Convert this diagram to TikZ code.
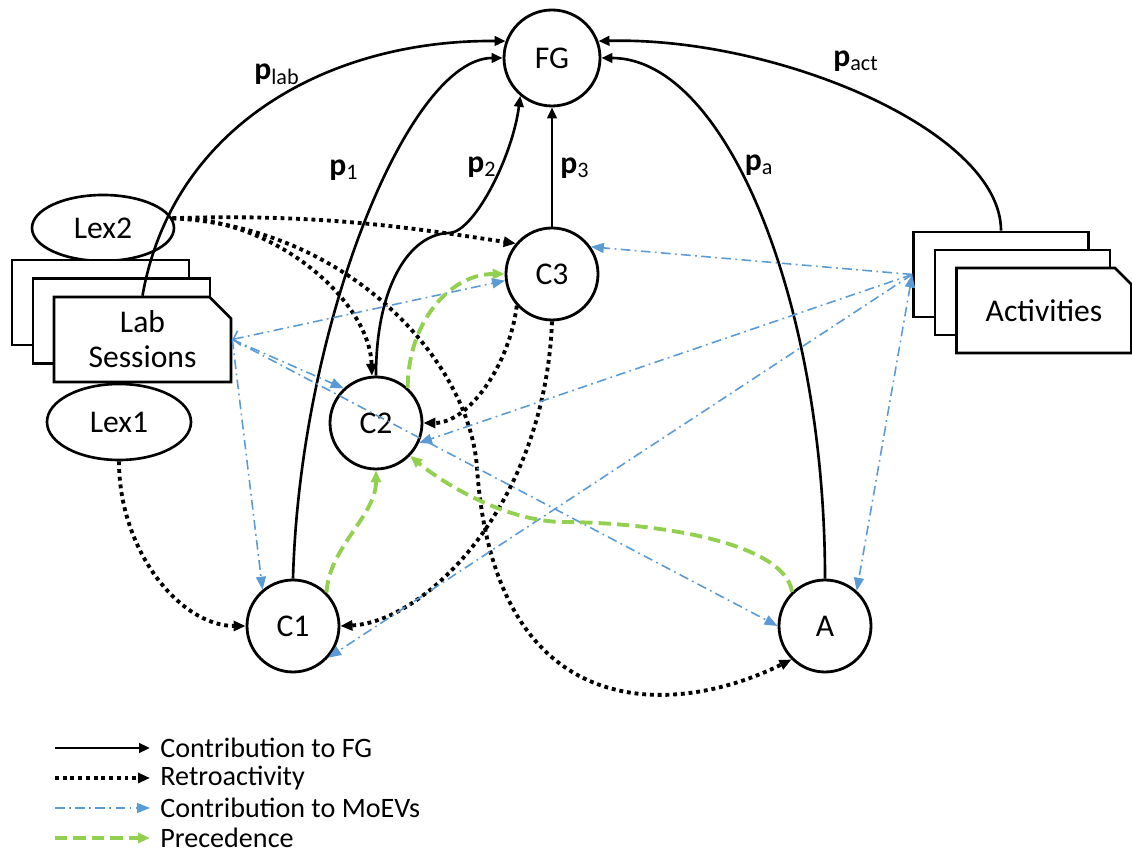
\documentclass[tikz,border=0pt]{standalone}
\usepackage{fontspec}
\setmainfont{Carlito}
\usetikzlibrary{arrows.meta,shapes.geometric,shapes.misc}
\definecolor{moevblue}{HTML}{5B9BD5}
\definecolor{precgreen}{HTML}{92D050}
\tikzset{
  stage/.style={circle, draw=black, line width=1.6pt, minimum size=1.84cm, inner sep=0pt, font=\fontsize{18}{20}\selectfont},
  lexnode/.style={ellipse, draw=black, line width=1.5pt, minimum width=2.84cm, minimum height=1.32cm, inner sep=0pt, font=\fontsize{18}{20}\selectfont},
  sheet/.style={chamfered rectangle, chamfered rectangle corners=north east, chamfered rectangle xsep=0.32cm, draw=black, fill=white, line width=1.5pt, minimum width=3.54cm, minimum height=1.70cm, inner sep=0pt, align=center, font=\fontsize{18}{20}\selectfont},
  plabel/.style={font=\fontsize{18}{20}\selectfont},
  legendtext/.style={anchor=west, inner sep=0pt, font=\fontsize{16}{18}\selectfont},
  contrib/.style={line width=1.5pt, -{Triangle[length=0.22cm,width=0.19cm]}},
  retro/.style={line width=2.2pt, dash pattern=on 2.2pt off 2.2pt, -{Triangle[length=0.24cm,width=0.2cm]}},
  moev/.style={color=moevblue, line width=0.9pt, dash pattern=on 5.5pt off 2.5pt on 1pt off 2.5pt, -{Triangle[length=0.26cm,width=0.2cm]}},
  prec/.style={color=precgreen, line width=2.2pt, dash pattern=on 7pt off 3.5pt, -{Triangle[length=0.24cm,width=0.2cm]}},
}

\begin{document}
\begin{tikzpicture}
\useasboundingbox (0,0) rectangle (22.64,17.04);
\node[stage, minimum size=1.92cm] (fg) at (11.04,15.88) {FG};
\node[stage] (c3) at (11.04,11.56) {C3};
\node[stage] (c2) at (7.52,8.58) {C2};
\node[stage] (c1) at (5.86,4.52) {C1};
\node[stage] (a) at (16.50,4.52) {A};
\node[lexnode] (lex2) at (2.06,12.48) {Lex2};
\node[lexnode, minimum width=2.88cm, minimum height=1.52cm] (lex1) at (2.38,8.60) {Lex1};
\node[sheet] (lab3) at (2.01,10.99) {};
\node[sheet] (lab2) at (2.43,10.62) {};
\node[sheet] (lab) at (2.85,10.25) {Lab\\Sessions};
\node[sheet, minimum width=3.50cm] (act3) at (20.02,11.55) {};
\node[sheet, minimum width=3.50cm] (act2) at (20.45,11.19) {};
\node[sheet, minimum width=3.50cm] (act) at (20.88,10.83) {Activities};

\draw[contrib] (lab.north) .. controls +(0.60,3.40) and +(-3.54,0.03) .. (fg.160);
\draw[contrib] (c1.north) .. controls +(0.14,5.06) and +(-1.88,0) .. (fg.west);
\draw[contrib] (c2.north) .. controls +(0,1.8) and +(-0.8,0) .. (9.00,12.38) .. controls +(0.5,0.05) and +(-0.15,-1.2) .. (fg.230);
\draw[contrib] (c3) -- (fg);
\draw[contrib] (a.north) .. controls +(0,5.5) and +(2.5,0) .. (fg.east);
\draw[contrib] (act3.north) .. controls +(0,2.0) and +(3.56,0.09) .. (fg.20);

\draw[retro] (lex2.8) .. controls +(3.0,0.1) and +(-2.0,0.3) .. (c3.140);
\draw[retro] (lex2.8) .. controls +(2.03,0.03) and +(-0.04,1.5) .. (c2.95);
\draw[retro] (lex2.8) .. controls +(3.53,-0.17) and +(-0.14,2.12) .. (9.54,7.68) .. controls +(0.36,-5.18) and +(-2.35,-1.17) .. (a.225);
\draw[retro] (lex1.south) .. controls +(0,-1.8) and +(-1.3,0) .. (c1.west);
\draw[retro] (c3.222) .. controls +(-0.15,-1.2) and +(0.9,0) .. (c2.east);
\draw[retro] (c3.south) .. controls +(-0.14,-3.65) and +(1.72,0.08) .. (c1.east);

\draw[moev, {Straight Barb[length=0.12cm,width=0.3cm]}-{Triangle[length=0.26cm,width=0.2cm]}] (lab.east) -- (c3.188);
\draw[moev] (lab.east) -- (c2.133);
\draw[moev] (lab.east) -- (a.west);
\draw[moev] (lab.east) -- (c1.130);
\draw[moev] (act3.west) -- (c3.35);
\draw[moev] (act3.west) -- (c2.335);
\draw[moev] (act3.west) -- (c1.318);
\draw[moev, {Triangle[length=0.26cm,width=0.2cm]}-{Triangle[length=0.26cm,width=0.2cm]}] (act3.west) -- (a.48);

\draw[prec] (c1.45) .. controls +(0.05,0.9) and +(0,-0.9) .. (c2.south);
\draw[prec] (a.134) .. controls +(-0.16,1.02) and +(1.8,0) .. (11.2,6.6) .. controls +(-1.2,0.05) and +(0.6,-0.5) .. (c2.316);
\draw[prec] (c2.48) .. controls +(0,1.3) and +(-1.1,0) .. (c3.180);

\node[plabel] (plab) at (5.54,15.56) {\textbf{p}\textsubscript{lab}};
\node[plabel] (pone) at (6.88,13.64) {\textbf{p}\textsubscript{1}};
\node[plabel] (ptwo) at (9.64,13.70) {\textbf{p}\textsubscript{2}};
\node[plabel] (pthree) at (11.50,13.68) {\textbf{p}\textsubscript{3}};
\node[plabel] (pa) at (15.18,13.74) {\textbf{p}\textsubscript{a}};
\node[plabel] (pact) at (17.12,15.82) {\textbf{p}\textsubscript{act}};

\coordinate (k1) at (1.10,2.08);
\coordinate (k2) at (1.10,1.48);
\coordinate (k3) at (1.10,0.88);
\coordinate (k4) at (1.10,0.28);
\node[legendtext] (leg1) at (3.20,2.08) {Contribution to FG};
\node[legendtext] (leg2) at (3.20,1.48) {Retroactivity};
\node[legendtext] (leg3) at (3.20,0.88) {Contribution to MoEVs};
\node[legendtext] (leg4) at (3.20,0.28) {Precedence};
\draw[contrib] (k1) -- ([xshift=-0.2cm]leg1.west);
\draw[retro] (k2) -- ([xshift=-0.2cm]leg2.west);
\draw[moev] (k3) -- ([xshift=-0.2cm]leg3.west);
\draw[prec] (k4) -- ([xshift=-0.2cm]leg4.west);
\end{tikzpicture}
\end{document}
